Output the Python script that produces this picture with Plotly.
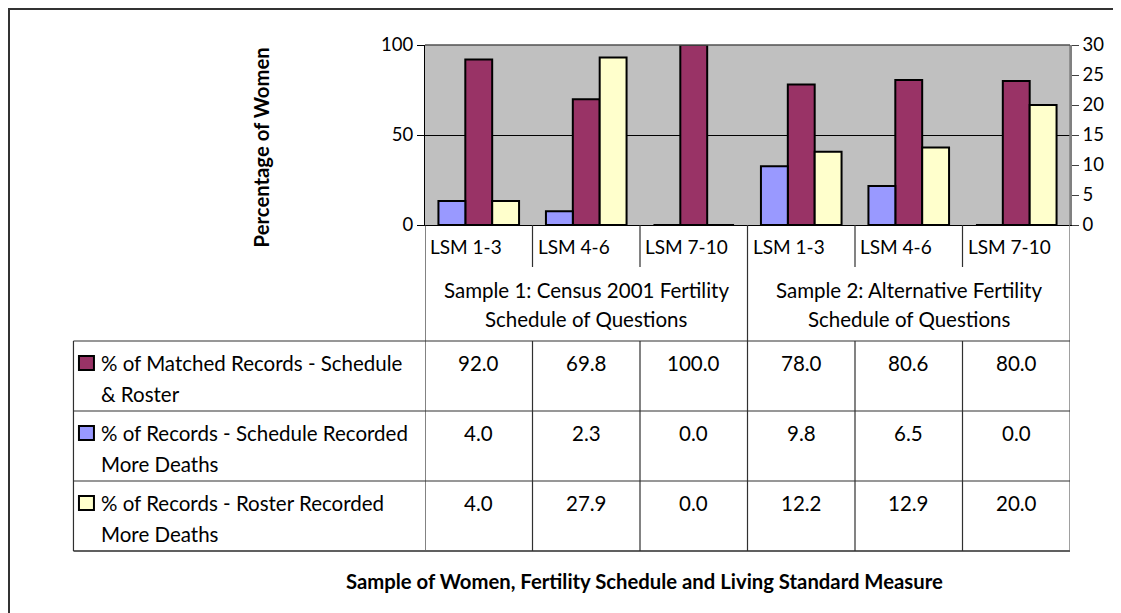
import textwrap
import plotly.graph_objects as go

# ---- data ----
categories = ["LSM 1-3", "LSM 4-6", "LSM 7-10", "LSM 1-3", "LSM 4-6", "LSM 7-10"]
groups = ["Sample 1: Census 2001 Fertility Schedule of Questions",
          "Sample 2: Alternative Fertility Schedule of Questions"]
matched = [92.0, 69.8, 100.0, 78.0, 80.6, 80.0]          # primary axis
schedule_more = [4.0, 2.3, 0.0, 9.8, 6.5, 0.0]          # secondary axis
roster_more = [4.0, 27.9, 0.0, 12.2, 12.9, 20.0]        # secondary axis
series_names = ["% of Matched Records - Schedule & Roster",
                "% of Records - Schedule Recorded More Deaths",
                "% of Records - Roster Recorded More Deaths"]
y_title = "Percentage of Women"
x_title = "Sample of Women, Fertility Schedule and Living Standard Measure"

MAROON = "#993366"
BLUE = "#9999FF"
YELLOW = "#FFFFCC"
FONT = "Lato"
FS = 20.5      # table text
FS_CAT = 19
FS_TICK = 18.5
FS_TITLE = 20.3

W, H = 1121, 613
OFF = 8  # page body margin shifts the figure by 8px
PX_L, PX_R, PX_T, PX_B = 424.7, 1070, 45, 225


def px(x):
    return (x - PX_L) / (PX_R - PX_L)


def py(y):
    return (PX_B - y) / (PX_B - PX_T)


xs = list(range(len(categories)))

fig = go.Figure()
bar_line = dict(color="black", width=2)
fig.add_trace(go.Bar(x=xs, y=schedule_more, yaxis="y2", marker=dict(color=BLUE, line=bar_line),
                     width=0.25, offset=-0.375, name=series_names[1], showlegend=False))
fig.add_trace(go.Bar(x=xs, y=matched, marker=dict(color=MAROON, line=bar_line),
                     width=0.25, offset=-0.125, name=series_names[0], showlegend=False))
fig.add_trace(go.Bar(x=xs, y=roster_more, yaxis="y2", marker=dict(color=YELLOW, line=bar_line),
                     width=0.25, offset=0.125, name=series_names[2], showlegend=False))

shapes = []
annots = []


def hline(x0, x1, y, color="#303030", w=1.2):
    shapes.append(dict(type="line", xref="paper", yref="paper", x0=px(x0), x1=px(x1),
                       y0=py(y), y1=py(y), line=dict(color=color, width=w)))


def vline(xd, y0, y1, color="#303030", w=1.2):
    shapes.append(dict(type="line", xref="x", yref="paper", x0=xd, x1=xd,
                       y0=py(y0), y1=py(y1), line=dict(color=color, width=w)))


def text(x, y, s, anchor="center", bold=False, size=FS, angle=0):
    annots.append(dict(xref="paper", yref="paper", x=px(x), y=py(y),
                       text="<b>%s</b>" % s if bold else s, showarrow=False,
                       xanchor=anchor, yanchor="middle", textangle=angle,
                       font=dict(family=FONT, size=size, color="black")))


# outer chart border (top edge kept just inside the figure)
shapes.append(dict(type="rect", xref="paper", yref="paper", x0=px(8.5), x1=px(1200),
                   y0=py(OFF + 1), y1=py(700), line=dict(color="#333333", width=2)))

# header area lines
vline(-0.5, PX_B, 551)
for i in range(1, len(categories)):
    bottom = 341 if i == 3 else 267
    vline(i - 0.5, PX_B, bottom)
vline(len(categories) - 0.5, PX_T, 551, color="#808080", w=1.5)

# table grid
for yy in [341, 411, 481]:
    hline(73, PX_R, yy)
hline(73, PX_R, 551, color="#606060", w=1.8)
shapes.append(dict(type="line", xref="paper", yref="paper", x0=px(73), x1=px(73),
                   y0=py(341), y1=py(551), line=dict(color="#303030", width=1.2)))
for i in range(1, len(categories)):
    vline(i - 0.5, 341, 551)

# category labels
for i, c in enumerate(categories):
    annots.append(dict(xref="x", yref="paper", x=i - 0.47, y=py(246), text=c, showarrow=False,
                       xanchor="left", yanchor="middle",
                       font=dict(family=FONT, size=FS_CAT, color="black")))

# group labels
for g, name in enumerate(groups):
    lines = textwrap.wrap(name, 32)
    for k, ln in enumerate(lines):
        annots.append(dict(xref="x", yref="paper", x=g * 3 + 1, y=py(290 + 29 * k), text=ln,
                           showarrow=False, xanchor="center", yanchor="middle",
                           font=dict(family=FONT, size=FS, color="black")))

# table rows: legend keys, labels, values
row_vals = [matched, schedule_more, roster_more]
row_cols = [MAROON, BLUE, YELLOW]
row_top = [341, 411, 481]
for r in range(3):
    y1 = row_top[r] + 22
    shapes.append(dict(type="rect", xref="paper", yref="paper", x0=px(78.5), x1=px(93.5),
                       y0=py(y1 - 7), y1=py(y1 + 7), fillcolor=row_cols[r],
                       line=dict(color="black", width=2)))
    for k, ln in enumerate(textwrap.wrap(series_names[r], 32)):
        text(99, y1 + 31 * k, ln, anchor="left")
    for i, v in enumerate(row_vals[r]):
        annots.append(dict(xref="x", yref="paper", x=i, y=py(y1), text="%.1f" % v,
                           showarrow=False, xanchor="center", yanchor="middle",
                           font=dict(family=FONT, size=FS, color="black")))

# axis titles
text(261, 147, y_title, bold=True, size=FS_TITLE, angle=-90)
text(644, 581, x_title, bold=True, size=FS_TITLE)

fig.update_layout(
    width=W, height=H,
    margin=dict(l=PX_L - OFF, r=W - (PX_R - OFF), t=PX_T - OFF, b=H - (PX_B - OFF)),
    paper_bgcolor="white", plot_bgcolor="#C0C0C0",
    barmode="overlay",
    font=dict(family=FONT, size=FS, color="black"),
    xaxis=dict(range=[-0.5, len(categories) - 0.5], showticklabels=False, ticks="",
               showgrid=False, zeroline=False, showline=True, linecolor="black",
               linewidth=1.2, mirror=False, fixedrange=True),
    yaxis=dict(range=[0, 100], tickvals=[0, 50, 100], showgrid=True, gridcolor="black",
               gridwidth=1, zeroline=False, showline=True, linecolor="black", linewidth=1.2,
               ticks="outside", ticklen=7, tickcolor="black",
               tickfont=dict(family=FONT, size=FS_TICK)),
    yaxis2=dict(range=[0, 30], dtick=5, overlaying="y", side="right", showgrid=False,
                zeroline=False, showline=True, linecolor="#808080", linewidth=1.5,
                ticks="outside", ticklen=7, tickcolor="#404040",
                tickfont=dict(family=FONT, size=FS_TICK)),
    shapes=shapes,
    annotations=annots,
)
# top border of plot area
fig.add_shape(type="line", xref="paper", yref="paper", x0=0, x1=1, y0=1, y1=1,
              line=dict(color="#505050", width=1.5))

fig.write_html("out.html")
